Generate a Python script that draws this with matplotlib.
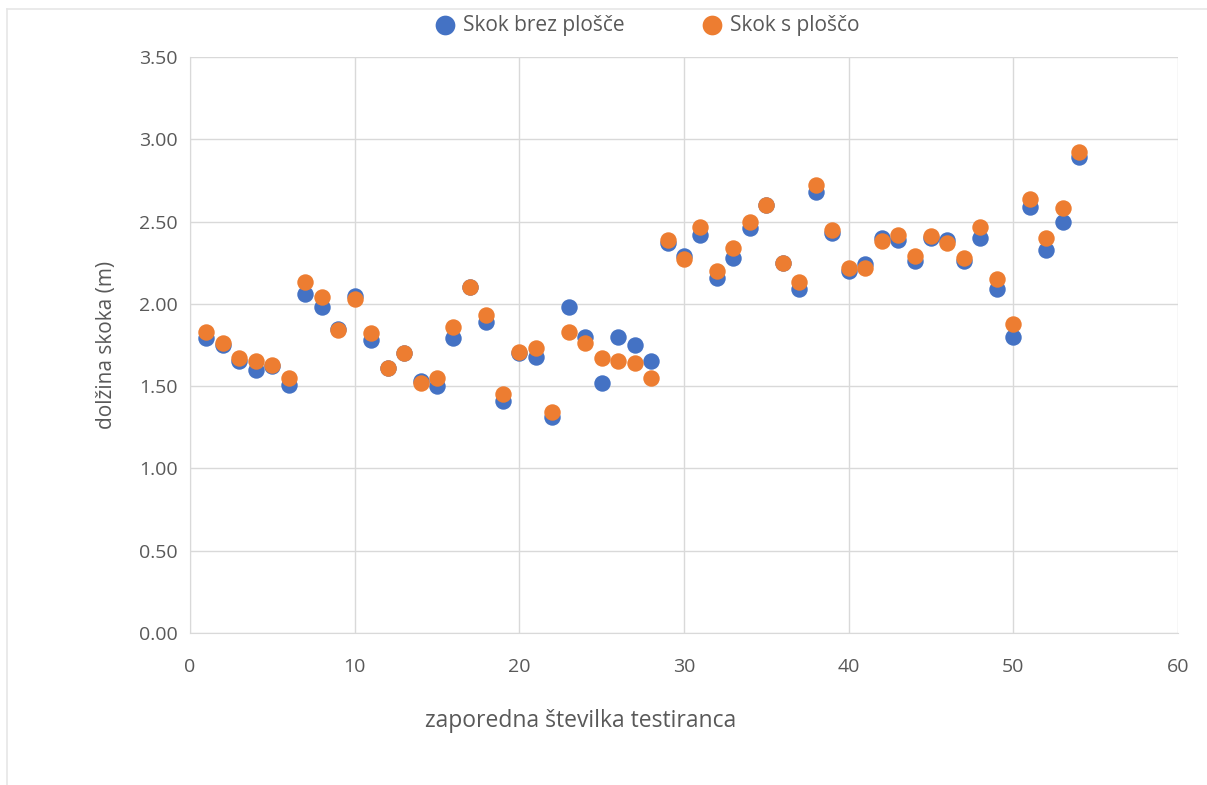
import matplotlib.pyplot as plt
from matplotlib.lines import Line2D

plt.rcParams['font.family'] = ['Open Sans', 'DejaVu Sans']

# zaporedna številka testiranca
testiranec = list(range(1, 55))

skok_brez = [1.79, 1.75, 1.65, 1.60, 1.62, 1.51, 2.06, 1.98, 1.85, 2.05,
             1.78, 1.61, 1.70, 1.53, 1.50, 1.79, 2.10, 1.89, 1.41, 1.70,
             1.68, 1.31, 1.98, 1.80, 1.52, 1.80, 1.75, 1.65, 2.37, 2.29,
             2.42, 2.16, 2.28, 2.46, 2.60, 2.25, 2.09, 2.68, 2.43, 2.20,
             2.24, 2.40, 2.39, 2.26, 2.40, 2.39, 2.26, 2.40, 2.09, 1.80,
             2.59, 2.33, 2.50, 2.89]

skok_s = [1.83, 1.76, 1.67, 1.65, 1.63, 1.55, 2.13, 2.04, 1.84, 2.03,
          1.82, 1.61, 1.70, 1.52, 1.55, 1.86, 2.10, 1.93, 1.45, 1.71,
          1.73, 1.34, 1.83, 1.76, 1.67, 1.65, 1.64, 1.55, 2.39, 2.27,
          2.47, 2.20, 2.34, 2.50, 2.60, 2.25, 2.13, 2.72, 2.45, 2.22,
          2.22, 2.38, 2.42, 2.29, 2.41, 2.37, 2.28, 2.47, 2.15, 1.88,
          2.64, 2.40, 2.58, 2.92]

y_ticks = [0.0, 0.5, 1.0, 1.5, 2.0, 2.5, 3.0, 3.5]
x_ticks = [0, 10, 20, 30, 40, 50, 60]

fig = plt.figure(figsize=(12.07, 7.85), dpi=100)
ax = fig.add_axes([0.1574, 0.1936, 0.8186, 0.7338])

# chart border: left and top edges only (the rest runs off the canvas)
frame = '#e6e6e6'
fig.add_artist(Line2D([0.006, 0.006], [0.0, 0.989], transform=fig.transFigure,
                      color=frame, linewidth=1.2))
fig.add_artist(Line2D([0.006, 1.0], [0.989, 0.989], transform=fig.transFigure,
                      color=frame, linewidth=1.2))

ax.scatter(testiranec, skok_brez, s=140, color='#4472C4', label='Skok brez plošče',
           zorder=3, linewidths=0)
ax.scatter(testiranec, skok_s, s=140, color='#ED7D31', label='Skok s ploščo',
           zorder=4, linewidths=0)

ax.set_xlim(0, 60)
ax.set_ylim(0, 3.5)
ax.set_xticks(x_ticks)
ax.set_yticks(y_ticks)
ax.set_yticklabels([f'{v:.2f}' for v in y_ticks])
ax.grid(True, color='#d9d9d9', linewidth=1.0)
ax.set_axisbelow(True)

for side in ['top', 'right']:
    ax.spines[side].set_visible(False)
for side in ['left', 'bottom']:
    ax.spines[side].set_color('#d9d9d9')
ax.tick_params(length=0, labelsize=14, labelcolor='#595959')
ax.tick_params(axis='y', pad=9)
ax.tick_params(axis='x', pad=18)

ax.set_ylabel('dolžina skoka (m)', fontsize=15, color='#595959', labelpad=16)
fig.text(0.481, 0.081, 'zaporedna številka testiranca', fontsize=16.5,
         color='#595959', ha='center', va='center')

leg = fig.legend(loc='center', bbox_to_anchor=(0.536, 0.968), ncol=2, frameon=False,
                 fontsize=15, handlelength=1.0, handletextpad=0.37,
                 columnspacing=3.7, markerscale=1.2)
for t in leg.get_texts():
    t.set_color('#595959')

fig.savefig('out.png', dpi=100)
